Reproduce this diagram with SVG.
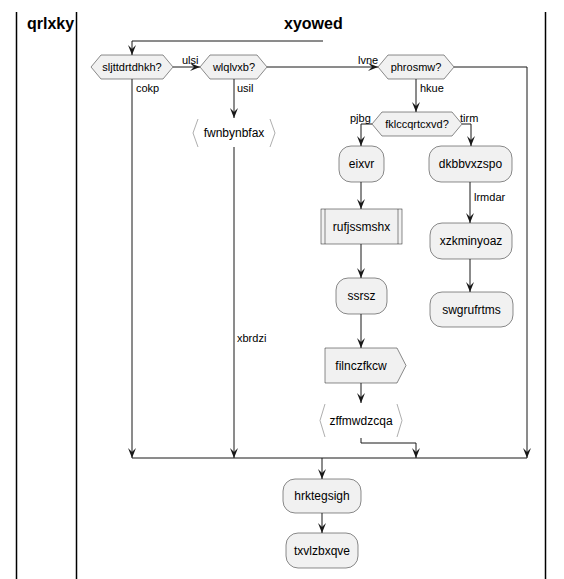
<svg xmlns="http://www.w3.org/2000/svg" width="564" height="579" viewBox="0 0 564 579">
<defs>
<marker id="ah" viewBox="0 0 10 8" refX="10" refY="4" markerWidth="10" markerHeight="8" markerUnits="userSpaceOnUse" orient="auto">
<path d="M0,0 L10,4 L0,8 L4,4 Z" fill="#181818"/>
</marker>
<style>
.lane{stroke:#000;stroke-width:1.5;fill:none}
.title{font-family:"Liberation Sans",Arial,sans-serif;font-size:16px;font-weight:bold;fill:#000}
.box{fill:#F1F1F1;stroke:#181818;stroke-width:0.5}
.brk{fill:none;stroke:#999;stroke-width:0.8}
.t{font-family:"Liberation Sans",Arial,sans-serif;font-size:12px;fill:#000;text-anchor:middle}
.d{font-family:"Liberation Sans",Arial,sans-serif;font-size:11px;fill:#000;text-anchor:middle}
.l{font-family:"Liberation Sans",Arial,sans-serif;font-size:11px;fill:#000}
.c{fill:none;stroke:#181818;stroke-width:1}
.ca{fill:none;stroke:#181818;stroke-width:1;marker-end:url(#ah)}
</style>
</defs>
<g id="lanes">
<line class="lane" x1="16.5" y1="12" x2="16.5" y2="579"/>
<line class="lane" x1="76.5" y1="12" x2="76.5" y2="579"/>
<line class="lane" x1="545.5" y1="12" x2="545.5" y2="579"/>
<text class="title" x="27" y="29">qrlxky</text>
<text class="title" x="284" y="29">xyowed</text>
</g>
<g id="connectors">
<path class="ca" d="M323,41 H132 V55"/>
<path class="ca" d="M173,67 H200"/>
<path class="ca" d="M267,67 H378"/>
<path class="ca" d="M454,67 H527 V458"/>
<path class="ca" d="M132,79 V458"/>
<path class="ca" d="M234,79 V118"/>
<path class="ca" d="M234,147 V458"/>
<path class="ca" d="M416,79 V112"/>
<path class="ca" d="M372,124 H361 V146"/>
<path class="ca" d="M462,124 H471 V146"/>
<path class="ca" d="M361,182 V209"/>
<path class="ca" d="M361,244 V278"/>
<path class="ca" d="M361,314 V348"/>
<path class="ca" d="M361,383 V403"/>
<path class="ca" d="M361,438 V443 H416 V458"/>
<path class="ca" d="M470,182 V223"/>
<path class="ca" d="M470,259 V292"/>
<path class="c" d="M132,458 H527"/>
<path class="ca" d="M322,458 V479"/>
<path class="ca" d="M322,513 V533"/>
<text class="l" x="182" y="64">ulsi</text>
<text class="l" x="358" y="64">lvne</text>
<text class="l" x="136" y="92">cokp</text>
<text class="l" x="237" y="92">usil</text>
<text class="l" x="420" y="92">hkue</text>
<text class="l" x="350" y="122">pjbg</text>
<text class="l" x="460" y="122">tirm</text>
<text class="l" x="474" y="201">lrmdar</text>
<text class="l" x="237" y="342">xbrdzi</text>
</g>
<g id="n1">
<polygon class="box" points="91,67 101,55 163,55 173,67 163,79 101,79"/>
<text class="d" x="132" y="71">sljttdrtdhkh?</text>
</g>
<g id="n2">
<polygon class="box" points="200,67 210,55 257,55 267,67 257,79 210,79"/>
<text class="d" x="234" y="71">wlqlvxb?</text>
</g>
<g id="n3">
<polygon class="box" points="378,67 388,55 444,55 454,67 444,79 388,79"/>
<text class="d" x="416" y="71">phrosmw?</text>
</g>
<g id="n4">
<polygon class="box" points="372,124 382,112 452,112 462,124 452,136 382,136"/>
<text class="d" x="417" y="128">fklccqrtcxvd?</text>
</g>
<g id="n5">
<polyline class="brk" points="198,119 193,133 198,147"/>
<polyline class="brk" points="270,119 275,133 270,147"/>
<text class="t" x="234" y="137">fwnbynbfax</text>
</g>
<g id="n6">
<rect class="box" x="339" y="146" width="45" height="36" rx="12" ry="12"/>
<text class="t" x="361.5" y="168">eixvr</text>
</g>
<g id="n7">
<rect class="box" x="429" y="146" width="83" height="36" rx="12" ry="12"/>
<text class="t" x="470.5" y="168">dkbbvxzspo</text>
</g>
<g id="n8">
<rect class="box" x="321" y="209" width="81" height="35"/>
<line class="box" x1="325" y1="209" x2="325" y2="244"/>
<line class="box" x1="398" y1="209" x2="398" y2="244"/>
<text class="t" x="361.5" y="231">rufjssmshx</text>
</g>
<g id="n9">
<rect class="box" x="336" y="278" width="51" height="36" rx="12" ry="12"/>
<text class="t" x="361.5" y="300">ssrsz</text>
</g>
<g id="n10">
<rect class="box" x="430" y="223" width="82" height="36" rx="12" ry="12"/>
<text class="t" x="471" y="245">xzkminyoaz</text>
</g>
<g id="n11">
<rect class="box" x="430" y="292" width="83" height="35" rx="12" ry="12"/>
<text class="t" x="471.5" y="314">swgrufrtms</text>
</g>
<g id="n12">
<polygon class="box" points="325,348 397,348 406,365.5 397,383 325,383"/>
<text class="t" x="361" y="370">filnczfkcw</text>
</g>
<g id="n13">
<polyline class="brk" points="325,404 320,420.5 325,437"/>
<polyline class="brk" points="397,404 402,420.5 397,437"/>
<text class="t" x="361" y="425">zffmwdzcqa</text>
</g>
<g id="n14">
<rect class="box" x="283" y="479" width="78" height="34" rx="12" ry="12"/>
<text class="t" x="322" y="500">hrktegsigh</text>
</g>
<g id="n15">
<rect class="box" x="286" y="533" width="72" height="35" rx="12" ry="12"/>
<text class="t" x="322" y="555">txvlzbxqve</text>
</g>
</svg>
